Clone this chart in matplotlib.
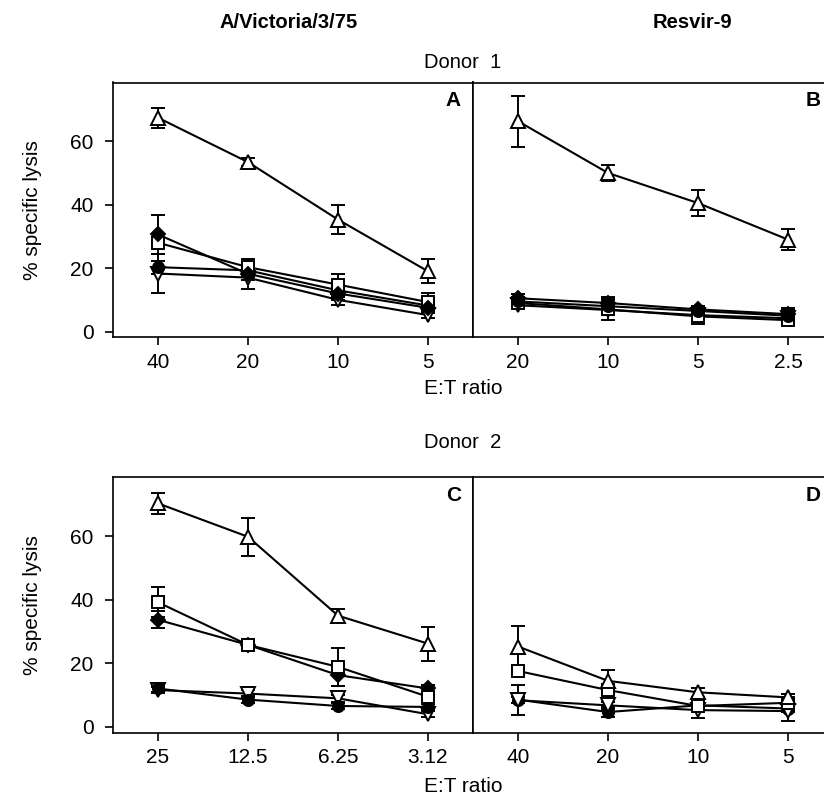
import matplotlib
matplotlib.use('Agg')
import matplotlib.pyplot as plt

plt.rcParams['font.family'] = ['Liberation Sans', 'DejaVu Sans']

# x categories (E:T ratios)
ratios_a = ['40', '20', '10', '5']
ratios_b = ['20', '10', '5', '2.5']
ratios_c = ['25', '12.5', '6.25', '3.12']
ratios_d = ['40', '20', '10', '5']

# panel A  (Donor 1, A/Victoria/3/75)
a_tri = [67.4, 53.4, 35.3, 19.0]
a_tri_err = [3.2, 1.2, 4.7, 3.8]
a_dia = [30.6, 18.2, 12.0, 7.5]
a_dia_err = [6.0, 2.0, 2.0, 1.5]
a_sq = [28.0, 20.3, 14.8, 9.3]
a_sq_err = [1.5, 2.5, 3.5, 3.0]
a_cir = [20.3, 19.3, 13.0, 8.2]
a_cir_err = [2.0, 2.0, 2.0, 1.5]
a_inv = [18.3, 17.0, 10.0, 5.2]
a_inv_err = [6.2, 3.5, 1.5, 1.0]

# panel B  (Donor 1, Resvir-9)
b_tri = [66.3, 50.0, 40.5, 29.0]
b_tri_err = [8.0, 2.5, 4.2, 3.4]
b_dia = [10.5, 9.0, 7.0, 5.5]
b_dia_err = [1.5, 2.0, 1.0, 2.0]
b_sq = [9.0, 7.0, 4.8, 3.6]
b_sq_err = [1.5, 3.5, 2.5, 1.5]
b_cir = [9.5, 8.0, 6.5, 5.0]
b_cir_err = [1.5, 2.0, 1.5, 2.0]
b_inv = [8.3, 6.8, 5.2, 4.2]
b_inv_err = [1.0, 1.5, 1.5, 1.0]

# panel C  (Donor 2, A/Victoria/3/75)
c_tri = [70.3, 59.8, 35.0, 26.2]
c_tri_err = [3.3, 6.0, 2.0, 5.3]
c_sq = [39.2, 25.8, 18.9, 9.5]
c_sq_err = [4.7, 1.5, 6.0, 1.0]
c_dia = [33.7, 25.8, 16.3, 12.1]
c_dia_err = [2.7, 1.5, 3.5, 1.0]
c_cir = [12.1, 8.6, 6.6, 6.3]
c_cir_err = [1.0, 1.0, 1.0, 1.0]
c_inv = [11.6, 10.5, 9.0, 4.0]
c_inv_err = [1.0, 1.0, 1.0, 1.0]

# panel D  (Donor 2, Resvir-9)
d_tri = [25.3, 14.5, 10.9, 9.3]
d_tri_err = [6.3, 3.4, 1.5, 1.0]
d_sq = [17.6, 11.6, 6.6, 7.6]
d_sq_err = [1.0, 1.0, 1.0, 1.0]
d_cir = [8.6, 4.7, 6.8, 5.8]
d_cir_err = [4.7, 1.5, 1.0, 1.0]
d_inv = [8.4, 6.8, 5.3, 5.0]
d_inv_err = [1.0, 1.0, 2.6, 3.2]

W, H = 824, 797
fig = plt.figure(figsize=(W / 100, H / 100), dpi=100)


def px(x0, y0, x1, y1):
    return [x0 / W, 1 - y1 / H, (x1 - x0) / W, (y1 - y0) / H]


ax_a = fig.add_axes(px(113, 82.5, 473, 337.3))
ax_b = fig.add_axes(px(473, 82.5, 833, 337.3))
ax_c = fig.add_axes(px(113, 477.3, 473, 732.7))
ax_d = fig.add_axes(px(473, 477.3, 833, 732.7))

styles = {
    'tri': dict(marker='^', mfc='white', ms=10),
    'inv': dict(marker='v', mfc='white', ms=10),
    'sq': dict(marker='s', mfc='white', ms=8),
    'cir': dict(marker='o', mfc='black', ms=8),
    'dia': dict(marker='D', mfc='black', ms=7),
}


def series(ax, vals, errs, kind):
    ax.errorbar(range(len(vals)), vals, yerr=errs, color='black', mec='black',
                mew=1.4, lw=1.5, elinewidth=1.4, capsize=5, capthick=1.4,
                **styles[kind])


series(ax_a, a_inv, a_inv_err, 'inv')
series(ax_a, a_cir, a_cir_err, 'cir')
series(ax_a, a_sq, a_sq_err, 'sq')
series(ax_a, a_dia, a_dia_err, 'dia')
series(ax_a, a_tri, a_tri_err, 'tri')

series(ax_b, b_inv, b_inv_err, 'inv')
series(ax_b, b_sq, b_sq_err, 'sq')
series(ax_b, b_cir, b_cir_err, 'cir')
series(ax_b, b_dia, b_dia_err, 'dia')
series(ax_b, b_tri, b_tri_err, 'tri')

series(ax_c, c_inv, c_inv_err, 'inv')
series(ax_c, c_cir, c_cir_err, 'cir')
series(ax_c, c_dia, c_dia_err, 'dia')
series(ax_c, c_sq, c_sq_err, 'sq')
series(ax_c, c_tri, c_tri_err, 'tri')

series(ax_d, d_cir, d_cir_err, 'cir')
series(ax_d, d_inv, d_inv_err, 'inv')
series(ax_d, d_sq, d_sq_err, 'sq')
series(ax_d, d_tri, d_tri_err, 'tri')

for ax, labels, letter in [(ax_a, ratios_a, 'A'), (ax_b, ratios_b, 'B'),
                           (ax_c, ratios_c, 'C'), (ax_d, ratios_d, 'D')]:
    ax.set_xlim(-0.5, 3.5)
    ax.set_ylim(-1.8, 78.5)
    ax.set_xticks(range(4))
    ax.set_xticklabels(labels, fontsize=15)
    ax.tick_params(axis='x', direction='out', length=6, width=1.2, pad=5)
    for s in ax.spines.values():
        s.set_linewidth(1.2)
    ax.text(0.945, 0.93, letter, transform=ax.transAxes, fontsize=15,
            fontweight='bold', ha='center', va='center')

for ax in (ax_a, ax_c):
    ax.set_yticks([0, 20, 40, 60])
    ax.tick_params(axis='y', direction='out', length=6, width=1.2, labelsize=15, pad=8)
    ax.set_ylabel('% specific lysis', fontsize=15, labelpad=20)
for ax in (ax_b, ax_d):
    ax.set_yticks([])

fig.text(289 / W, 1 - 22 / H, 'A/Victoria/3/75', fontsize=14.5, fontweight='bold',
         ha='center', va='center')
fig.text(692 / W, 1 - 22 / H, 'Resvir-9', fontsize=14.5, fontweight='bold',
         ha='center', va='center')
fig.text(463 / W, 1 - 62 / H, 'Donor  1', fontsize=14.5, ha='center', va='center')
fig.text(463 / W, 1 - 443 / H, 'Donor  2', fontsize=14.5, ha='center', va='center')
fig.text(463 / W, 1 - 389 / H, 'E:T ratio', fontsize=15, ha='center', va='center')
fig.text(463 / W, 1 - 787 / H, 'E:T ratio', fontsize=15, ha='center', va='center')

fig.savefig('out.png', dpi=100)
